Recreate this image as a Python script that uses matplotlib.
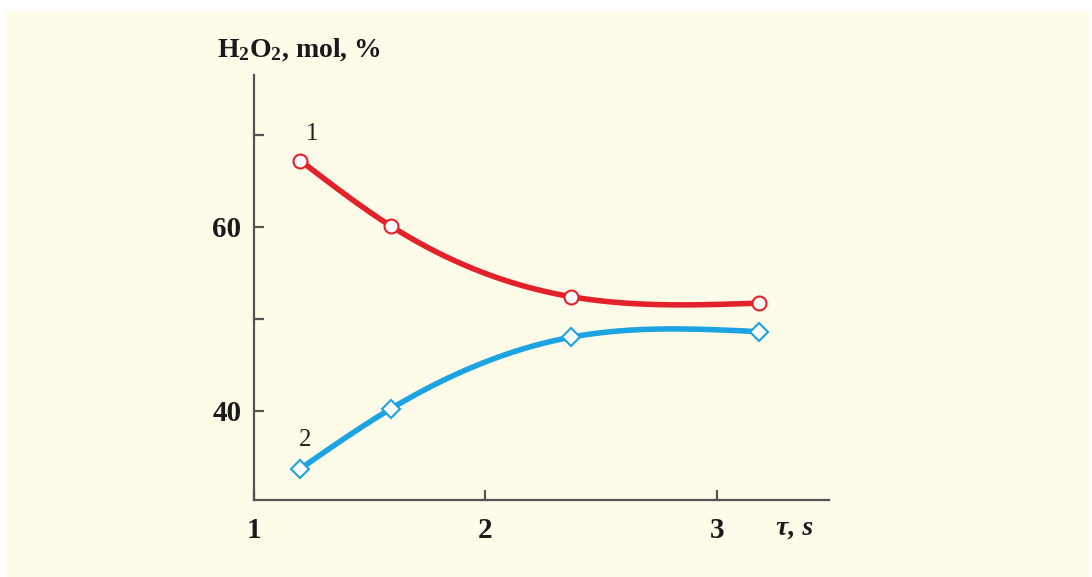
import numpy as np
import matplotlib
matplotlib.use("Agg")
import matplotlib.pyplot as plt
from matplotlib.patches import Rectangle

plt.rcParams["mathtext.fontset"] = "custom"
plt.rcParams["mathtext.rm"] = "Liberation Serif:bold"
plt.rcParams["mathtext.bf"] = "Liberation Serif:bold"
plt.rcParams["mathtext.it"] = "Liberation Serif:bold:italic"

# Data
tau = [1.2, 1.59, 2.37, 3.18]
h2o2_curve1 = [67.2, 60.1, 52.4, 51.7]
h2o2_curve2 = [33.7, 40.2, 48.0, 48.6]
xticks = [1, 2, 3]
xticklabels = ["1", "2", "3"]
yticks_major = [40, 60]
yticks_minor = [50, 70]

RED = "#E3212B"
BLUE = "#1CA3E2"
BG = "#FFFBE9"
AX = "#555555"


def natural_spline(x, y, n=200):
    x = np.asarray(x, float)
    y = np.asarray(y, float)
    k = len(x)
    h = np.diff(x)
    A = np.zeros((k, k))
    r = np.zeros(k)
    A[0, 0] = A[-1, -1] = 1
    for i in range(1, k - 1):
        A[i, i - 1] = h[i - 1]
        A[i, i] = 2 * (h[i - 1] + h[i])
        A[i, i + 1] = h[i]
        r[i] = 6 * ((y[i + 1] - y[i]) / h[i] - (y[i] - y[i - 1]) / h[i - 1])
    M = np.linalg.solve(A, r)
    xs = np.linspace(x[0], x[-1], n)
    ys = np.empty_like(xs)
    for j, t in enumerate(xs):
        i = min(np.searchsorted(x, t, side="right") - 1, k - 2)
        a = x[i + 1] - t
        b = t - x[i]
        ys[j] = (M[i] * a ** 3 / (6 * h[i]) + M[i + 1] * b ** 3 / (6 * h[i])
                 + (y[i] / h[i] - M[i] * h[i] / 6) * a
                 + (y[i + 1] / h[i] - M[i + 1] * h[i] / 6) * b)
    return xs, ys


fig = plt.figure(figsize=(10.92, 5.77), dpi=100, facecolor="white")
fig.patches.append(Rectangle((6 / 1092, 0), 1084 / 1092, 566 / 577,
                             transform=fig.transFigure, facecolor=BG,
                             edgecolor="none", zorder=-10))

ax = fig.add_axes([254 / 1092, (577 - 500) / 577, (829 - 254) / 1092, (500 - 75) / 577])
ax.set_facecolor("none")
ax.set_xlim(1, 3.484)
ax.set_ylim(30.3, 76.5)

for x, y, c, m in [(tau, h2o2_curve1, RED, "o"), (tau, h2o2_curve2, BLUE, "D")]:
    xs, ys = natural_spline(x, y)
    ax.plot(xs, ys, color=c, lw=4.0, solid_capstyle="round", zorder=2)
    ax.plot(x, y, ls="none", marker=m, ms=10 if m == "o" else 9,
            mfc="white", mec=c, mew=1.5, zorder=3)

for side in ["top", "right"]:
    ax.spines[side].set_visible(False)
for side in ["left", "bottom"]:
    ax.spines[side].set_color(AX)
    ax.spines[side].set_linewidth(1.6)

ax.set_xticks(xticks)
ax.set_xticklabels(xticklabels)
ax.set_yticks(yticks_major + yticks_minor)
ax.set_yticklabels([str(v) for v in yticks_major] + ["" for _ in yticks_minor])
ax.tick_params(direction="in", length=7, width=1.6, color=AX, labelsize=21)
ax.tick_params(axis="y", pad=9)
ax.tick_params(axis="x", pad=12)
for lab in ax.get_xticklabels() + ax.get_yticklabels():
    lab.set_fontfamily("Liberation Serif")
    lab.set_fontweight("bold")
    lab.set_color("#1a1a1a")

ax.text(1.25, 70.1, "1", fontsize=18, family="Liberation Serif", color="#222222",
        ha="center", va="center")
ax.text(1.22, 36.8, "2", fontsize=18, family="Liberation Serif", color="#222222",
        ha="center", va="center")

fig.text(299 / 1092, 1 - 50 / 577, r"$\mathbf{H_2O_2}$, mol, %", fontsize=20,
         family="Liberation Serif", fontweight="bold", ha="center", va="center",
         color="#1a1a1a")
fig.text(795 / 1092, 1 - 528 / 577, "τ, s", fontsize=20, family="Liberation Serif",
         fontweight="bold", style="italic", ha="center", va="center", color="#1a1a1a")

fig.savefig("out.png", dpi=100, facecolor="white")
